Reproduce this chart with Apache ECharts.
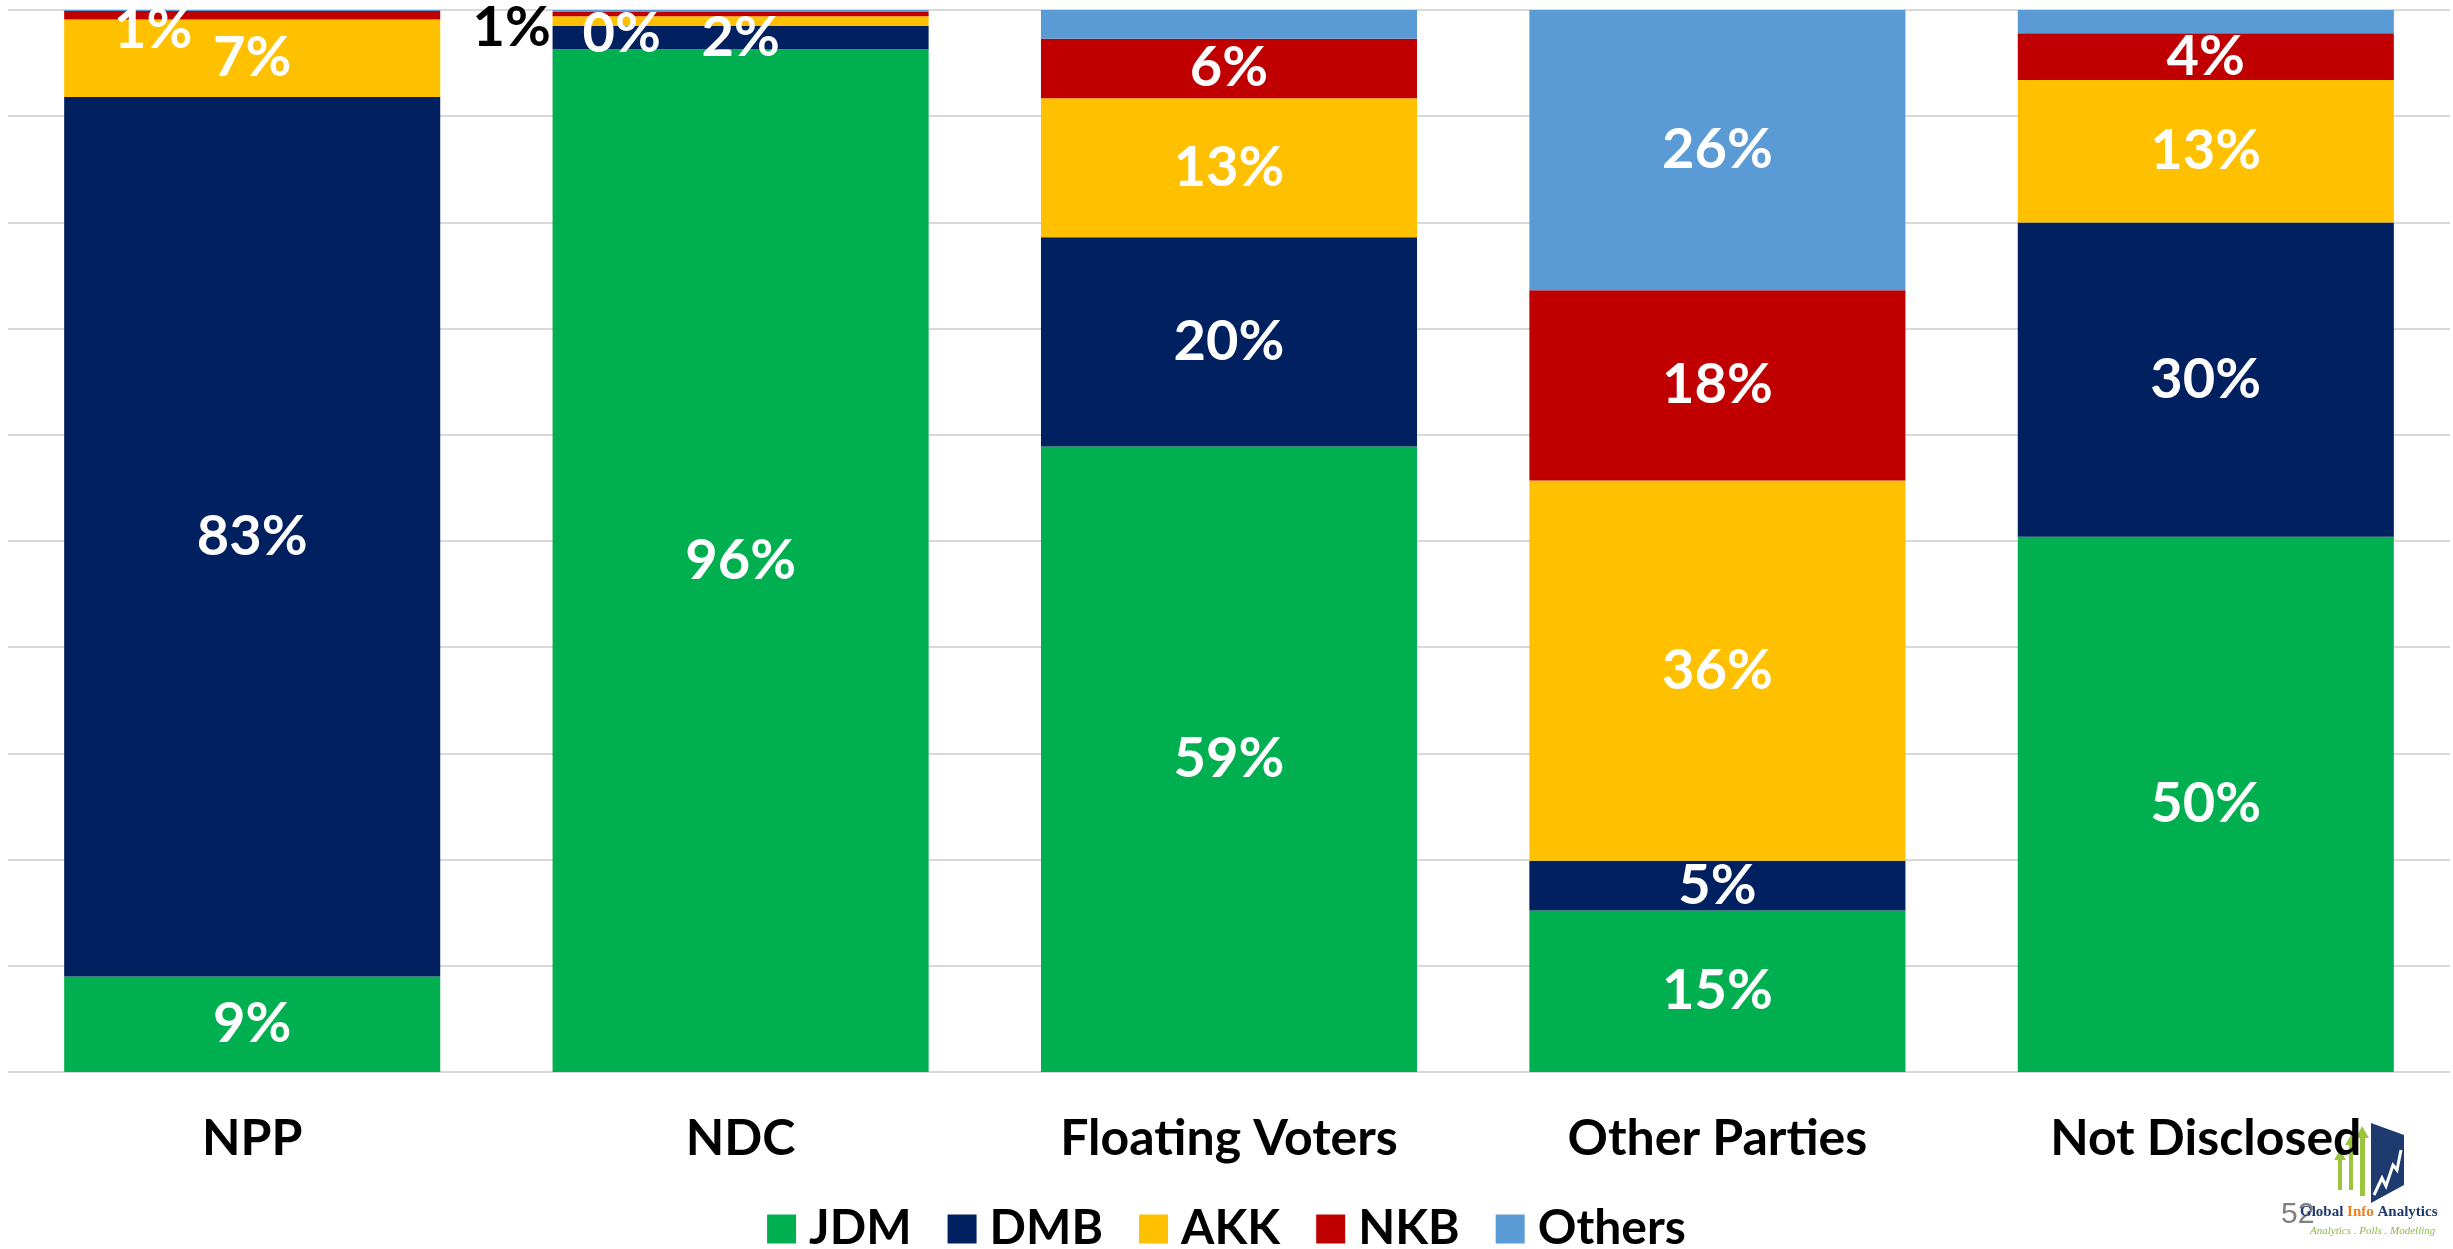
<!DOCTYPE html>
<html>
<head>
<meta charset="utf-8">
<script src="https://cdn.jsdelivr.net/npm/echarts@6/dist/echarts.min.js"></script>
<style>
  html, body { margin: 0; padding: 0; background: #fff; }
  #chart { width: 2453px; height: 1249px; }
</style>
</head>
<body>
<div id="chart"></div>
<script>
// 数据
var categories = ['NPP', 'NDC', 'Floating Voters', 'Other Parties', 'Not Disclosed'];
var seriesNames = ['JDM', 'DMB', 'AKK', 'NKB', 'Others'];
var jdm = [9.0, 96.3, 58.9, 15.2, 50.4];
var dmb = [82.8, 2.2, 19.7, 4.7, 29.6];
var akk = [7.3, 0.9, 13.1, 35.8, 13.4];
var nkb = [0.8, 0.4, 5.6, 17.9, 4.4];
var others = [0.1, 0.2, 2.7, 26.4, 2.2];
var yTicks = [0, 10, 20, 30, 40, 50, 60, 70, 80, 90, 100];

var values = [jdm, dmb, akk, nkb, others];
var colors = ['#00B050', '#002060', '#FFC000', '#C00000', '#5B9BD5'];

// 手动挪动的标签 (和原图一样)
var labelTweaks = {
  'NKB|NPP': { offset: [-99, 15] },
  'AKK|NDC': { offset: [-229, 7], color: '#000' },
  'NKB|NDC': { offset: [-119, 20] }
};

var myChart = echarts.init(document.getElementById('chart'));

var series = seriesNames.map(function(name, si) {
  return {
    name: name,
    type: 'bar',
    stack: 'total',
    barCategoryGap: '23%',
    itemStyle: { color: colors[si] },
    label: {
      show: true,
      position: 'inside',
      color: '#fff',
      fontFamily: 'Lato',
      fontWeight: 'bold',
      fontSize: 56,
      formatter: function(p) { return Math.round(p.value) + '%'; }
    },
    data: values[si].map(function(v, ci) {
      var item = { value: v };
      var key = name + '|' + categories[ci];
      if (labelTweaks[key]) item.label = labelTweaks[key];
      if (name === 'Others' && v < 10) item.label = { show: false };
      return item;
    })
  };
});

var option = {
  animation: false,
  grid: { left: 8, right: 3, top: 10, bottom: 177 },
  legend: {
    data: seriesNames,
    top: 1200,
    left: 'center',
    itemWidth: 29,
    itemHeight: 29,
    itemGap: 36,
    icon: 'rect',
    textStyle: { fontFamily: 'Lato', fontWeight: 'bold', fontSize: 48, color: '#000', padding: [0, 0, 0, 8] }
  },
  xAxis: {
    type: 'category',
    data: categories,
    axisTick: { show: false },
    axisLine: { show: false },
    axisLabel: { margin: 42, fontFamily: 'Lato', fontWeight: 'bold', fontSize: 50, color: '#000' }
  },
  yAxis: {
    type: 'value',
    min: yTicks[0],
    max: yTicks[yTicks.length - 1],
    interval: yTicks[1] - yTicks[0],
    axisLabel: { show: false },
    axisLine: { show: false },
    axisTick: { show: false },
    splitLine: { lineStyle: { color: '#D9D9D9', width: 2 } }
  },
  graphic: [
    // Global Info Analytics 标志
    { type: 'polygon', shape: { points: [[2371, 1123], [2404, 1135], [2404, 1185], [2371, 1203]] }, style: { fill: '#1F3A6E' } },
    { type: 'polyline', shape: { points: [[2374, 1195], [2382, 1178], [2386, 1186], [2393, 1165], [2397, 1170], [2401, 1150]] }, style: { stroke: '#fff', lineWidth: 3, fill: null } },
    { type: 'rect', shape: { x: 2338, y: 1160, width: 4, height: 30 }, style: { fill: '#9BC53D' } },
    { type: 'polygon', shape: { points: [[2334, 1160], [2346, 1160], [2340, 1150]] }, style: { fill: '#9BC53D' } },
    { type: 'rect', shape: { x: 2349, y: 1145, width: 4, height: 45 }, style: { fill: '#9BC53D' } },
    { type: 'polygon', shape: { points: [[2345, 1145], [2357, 1145], [2351, 1135]] }, style: { fill: '#9BC53D' } },
    { type: 'rect', shape: { x: 2360, y: 1138, width: 5, height: 58 }, style: { fill: '#9BC53D' } },
    { type: 'polygon', shape: { points: [[2356, 1138], [2369, 1138], [2362, 1126]] }, style: { fill: '#9BC53D' } },
    { type: 'text', left: 2281, top: 1200, style: { text: '52', fontFamily: 'Liberation Sans', fontSize: 30, fill: '#7F7F7F' } },
    { type: 'text', left: 2300, top: 1205, style: {
        text: '{a|Global }{b|Info }{a|Analytics}',
        rich: {
          a: { fontFamily: 'Liberation Serif', fontWeight: 'bold', fontSize: 15, fill: '#1F3A6E' },
          b: { fontFamily: 'Liberation Serif', fontWeight: 'bold', fontSize: 15, fill: '#F07F1A' }
        }
      } },
    { type: 'text', left: 2310, top: 1226, style: { text: 'Analytics . Polls . Modelling', fontFamily: 'Liberation Serif', fontStyle: 'italic', fontSize: 11, fill: '#8DB93B' } }
  ],
  series: series
};

myChart.setOption(option);
</script>
</body>
</html>
